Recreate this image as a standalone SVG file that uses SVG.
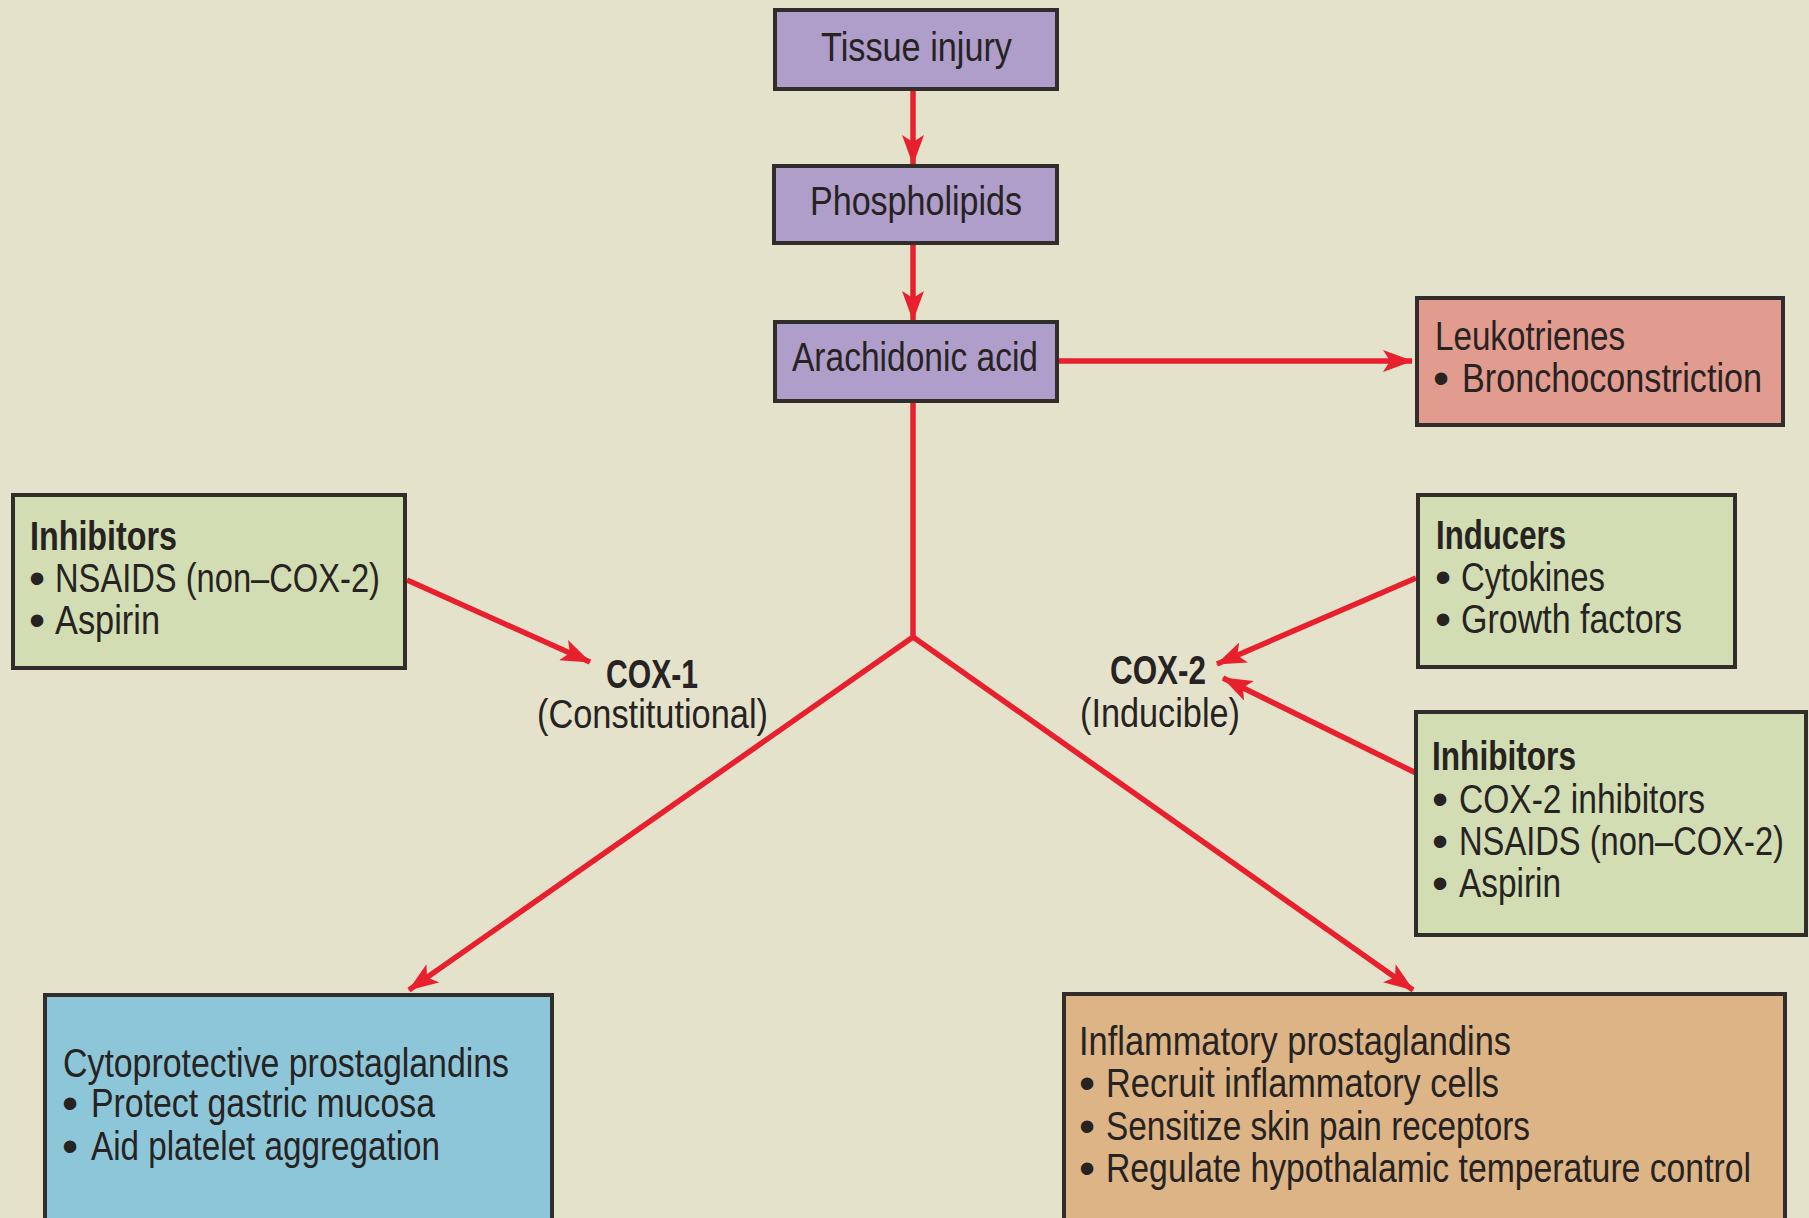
<svg xmlns="http://www.w3.org/2000/svg" width="1809" height="1218" viewBox="0 0 1809 1218">
<style>
.bg{fill:#E4E2CA}
.box{stroke:#302d2a;stroke-width:4}
.purple{fill:#AF9DCA}
.salmon{fill:#E29B8F}
.green{fill:#D2DDB3}
.blue{fill:#8DC6D9}
.tan{fill:#DDB486}
text{font-family:"Liberation Sans",Arial,sans-serif;font-size:40px;fill:#262322}
.b{font-weight:bold}
.dot{font-size:46px}
.conn{stroke:#E8202E;stroke-width:5.5;fill:none}
</style>
<defs>
<marker id="ah" markerUnits="userSpaceOnUse" viewBox="0 0 30 22" refX="29" refY="11" markerWidth="30" markerHeight="22" orient="auto">
<path d="M0,0 L30,11 L0,22 L7,11 z" fill="#E8202E"/>
</marker>
</defs>
<rect class="bg" x="0" y="0" width="1809" height="1218"/>

<g id="connectors">
<path class="conn" d="M913,89 L913,164" marker-end="url(#ah)"/>
<path class="conn" d="M913,243 L913,320" marker-end="url(#ah)"/>
<path class="conn" d="M1057,361 L1412,361" marker-end="url(#ah)"/>
<path class="conn" d="M913,401 L913,637 L409,990" marker-end="url(#ah)"/>
<path class="conn" d="M913,637 L1413,990" marker-end="url(#ah)"/>
<path class="conn" d="M407,580 L590,662" marker-end="url(#ah)"/>
<path class="conn" d="M1416,578 L1217,664" marker-end="url(#ah)"/>
<path class="conn" d="M1416,773 L1223,678" marker-end="url(#ah)"/>
</g>

<g id="tissue-injury">
<rect class="box purple" x="775" y="10" width="282" height="79"/>
<text x="821" y="61" textLength="191" lengthAdjust="spacingAndGlyphs">Tissue injury</text>
</g>

<g id="phospholipids">
<rect class="box purple" x="774" y="166" width="283" height="77"/>
<text x="810" y="215" textLength="212" lengthAdjust="spacingAndGlyphs">Phospholipids</text>
</g>

<g id="arachidonic-acid">
<rect class="box purple" x="775" y="322" width="282" height="79"/>
<text x="792" y="371" textLength="246" lengthAdjust="spacingAndGlyphs">Arachidonic acid</text>
</g>

<g id="leukotrienes">
<rect class="box salmon" x="1417" y="298" width="366" height="127"/>
<text x="1435" y="350" textLength="190" lengthAdjust="spacingAndGlyphs">Leukotrienes</text>
<text><tspan class="dot" x="1433" y="394">•</tspan><tspan x="1462" y="392" textLength="300" lengthAdjust="spacingAndGlyphs">Bronchoconstriction</tspan></text>
</g>

<g id="cox1-inhibitors">
<rect class="box green" x="13" y="495" width="392" height="173"/>
<text class="b" x="30" y="550" textLength="147" lengthAdjust="spacingAndGlyphs">Inhibitors</text>
<text><tspan class="dot" x="29" y="594">•</tspan><tspan x="55" y="592" textLength="325" lengthAdjust="spacingAndGlyphs">NSAIDS (non–COX-2)</tspan></text>
<text><tspan class="dot" x="29" y="636">•</tspan><tspan x="55" y="634" textLength="105" lengthAdjust="spacingAndGlyphs">Aspirin</tspan></text>
</g>

<g id="cox1">
<text class="b" x="606" y="688" textLength="92" lengthAdjust="spacingAndGlyphs">COX-1</text>
<text x="537" y="728" textLength="231" lengthAdjust="spacingAndGlyphs">(Constitutional)</text>
</g>

<g id="cox2">
<text class="b" x="1110" y="684" textLength="96" lengthAdjust="spacingAndGlyphs">COX-2</text>
<text x="1080" y="727" textLength="160" lengthAdjust="spacingAndGlyphs">(Inducible)</text>
</g>

<g id="inducers">
<rect class="box green" x="1418" y="495" width="317" height="172"/>
<text class="b" x="1436" y="549" textLength="130" lengthAdjust="spacingAndGlyphs">Inducers</text>
<text><tspan class="dot" x="1435" y="593">•</tspan><tspan x="1461" y="591" textLength="144" lengthAdjust="spacingAndGlyphs">Cytokines</tspan></text>
<text><tspan class="dot" x="1435" y="635">•</tspan><tspan x="1461" y="633" textLength="221" lengthAdjust="spacingAndGlyphs">Growth factors</tspan></text>
</g>

<g id="cox2-inhibitors">
<rect class="box green" x="1416" y="712" width="390" height="223"/>
<text class="b" x="1432" y="770" textLength="144" lengthAdjust="spacingAndGlyphs">Inhibitors</text>
<text><tspan class="dot" x="1432" y="815">•</tspan><tspan x="1459" y="813" textLength="246" lengthAdjust="spacingAndGlyphs">COX-2 inhibitors</tspan></text>
<text><tspan class="dot" x="1432" y="857">•</tspan><tspan x="1459" y="855" textLength="325" lengthAdjust="spacingAndGlyphs">NSAIDS (non–COX-2)</tspan></text>
<text><tspan class="dot" x="1432" y="899">•</tspan><tspan x="1459" y="897" textLength="102" lengthAdjust="spacingAndGlyphs">Aspirin</tspan></text>
</g>

<g id="cytoprotective">
<rect class="box blue" x="45" y="995" width="507" height="240"/>
<text x="63" y="1077" textLength="446" lengthAdjust="spacingAndGlyphs">Cytoprotective prostaglandins</text>
<text><tspan class="dot" x="62" y="1119">•</tspan><tspan x="91" y="1117" textLength="344" lengthAdjust="spacingAndGlyphs">Protect gastric mucosa</tspan></text>
<text><tspan class="dot" x="62" y="1162">•</tspan><tspan x="91" y="1160" textLength="349" lengthAdjust="spacingAndGlyphs">Aid platelet aggregation</tspan></text>
</g>

<g id="inflammatory">
<rect class="box tan" x="1064" y="994" width="721" height="240"/>
<text x="1079" y="1055" textLength="432" lengthAdjust="spacingAndGlyphs">Inflammatory prostaglandins</text>
<text><tspan class="dot" x="1079" y="1099">•</tspan><tspan x="1106" y="1097" textLength="393" lengthAdjust="spacingAndGlyphs">Recruit inflammatory cells</tspan></text>
<text><tspan class="dot" x="1079" y="1142">•</tspan><tspan x="1106" y="1140" textLength="424" lengthAdjust="spacingAndGlyphs">Sensitize skin pain receptors</tspan></text>
<text><tspan class="dot" x="1079" y="1184">•</tspan><tspan x="1106" y="1182" textLength="645" lengthAdjust="spacingAndGlyphs">Regulate hypothalamic temperature control</tspan></text>
</g>
</svg>
